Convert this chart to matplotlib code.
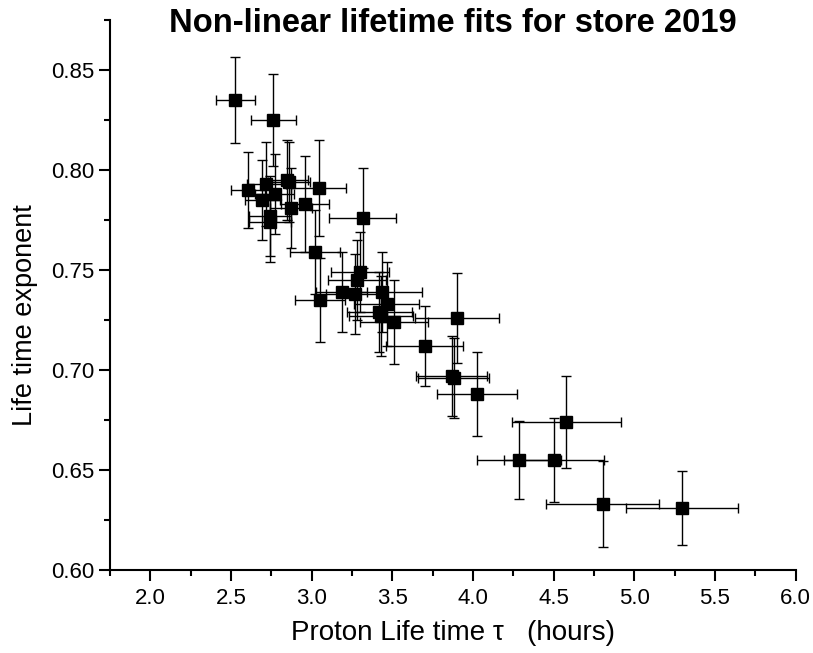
import matplotlib
matplotlib.use("Agg")
import matplotlib.pyplot as plt
from matplotlib.ticker import MultipleLocator

plt.rcParams['font.family'] = ['Liberation Sans', 'DejaVu Sans']

# fitted lifetimes (hours) and exponents with their errors
tau = [2.528, 2.763, 2.608, 2.72, 2.77, 2.695, 2.85, 2.86, 3.043, 2.74,
       2.74, 2.87, 2.96, 3.316, 3.024, 3.055, 3.186, 3.27, 3.28, 3.30,
       3.434, 3.465, 3.42, 3.43, 3.51, 3.90, 3.70, 3.87, 3.88, 4.025,
       4.58, 4.285, 4.50, 4.806, 5.296]
tau_err = [0.12, 0.14, 0.105, 0.12, 0.12, 0.11, 0.13, 0.13, 0.17, 0.13,
           0.13, 0.13, 0.15, 0.21, 0.155, 0.155, 0.16, 0.18, 0.18, 0.18,
           0.25, 0.2, 0.2, 0.2, 0.21, 0.26, 0.24, 0.22, 0.22, 0.25,
           0.34, 0.26, 0.31, 0.35, 0.35]
expo = [0.835, 0.825, 0.790, 0.793, 0.788, 0.785, 0.795, 0.794, 0.791, 0.777,
        0.774, 0.781, 0.783, 0.776, 0.759, 0.735, 0.739, 0.738, 0.745, 0.749,
        0.739, 0.733, 0.729, 0.727, 0.724, 0.726, 0.712, 0.697, 0.696, 0.688,
        0.674, 0.655, 0.655, 0.633, 0.631]
expo_err = [0.0215, 0.023, 0.019, 0.021, 0.02, 0.02, 0.02, 0.02, 0.024, 0.02,
            0.02, 0.02, 0.024, 0.025, 0.021, 0.021, 0.02, 0.02, 0.02, 0.02,
            0.02, 0.021, 0.02, 0.02, 0.021, 0.0225, 0.02, 0.02, 0.02, 0.021,
            0.023, 0.0195, 0.021, 0.0217, 0.0185]

fig = plt.figure(figsize=(8.13, 6.53), dpi=100)
ax = fig.add_axes([0.1353, 0.1271, 0.8432, 0.8423])

ax.errorbar(tau, expo, xerr=tau_err, yerr=expo_err, fmt='s', color='black',
            ecolor='black', elinewidth=1.0, capsize=3.5, capthick=1.0,
            markersize=9)

ax.set_xlim(1.75, 6.0)
ax.set_ylim(0.60, 0.875)
ax.xaxis.set_major_locator(MultipleLocator(0.5))
ax.xaxis.set_minor_locator(MultipleLocator(0.25))
ax.yaxis.set_major_locator(MultipleLocator(0.05))
ax.yaxis.set_minor_locator(MultipleLocator(0.025))
ax.xaxis.set_major_formatter(plt.FormatStrFormatter('%.1f'))
ax.yaxis.set_major_formatter(plt.FormatStrFormatter('%.2f'))

for s in ['top', 'right']:
    ax.spines[s].set_visible(False)
for s in ['left', 'bottom']:
    ax.spines[s].set_linewidth(1.5)
ax.tick_params(which='major', direction='out', length=8, width=1.5, labelsize=16)
ax.tick_params(which='minor', direction='out', length=4, width=1.5)
ax.tick_params(axis='x', pad=5)
ax.tick_params(axis='y', pad=3)

ax.set_xlabel('Proton Life time \u03c4   (hours)', fontsize=20, labelpad=8)
ax.set_ylabel('Life time exponent', fontsize=19.5, labelpad=10)
ax.yaxis.label.set_y(0.464)

fig.text(0.557, 1 - 32 / 653, 'Non-linear lifetime fits for store 2019',
         ha='center', va='baseline', fontsize=23.6, fontweight='bold')

fig.savefig('out.png', dpi=100)
